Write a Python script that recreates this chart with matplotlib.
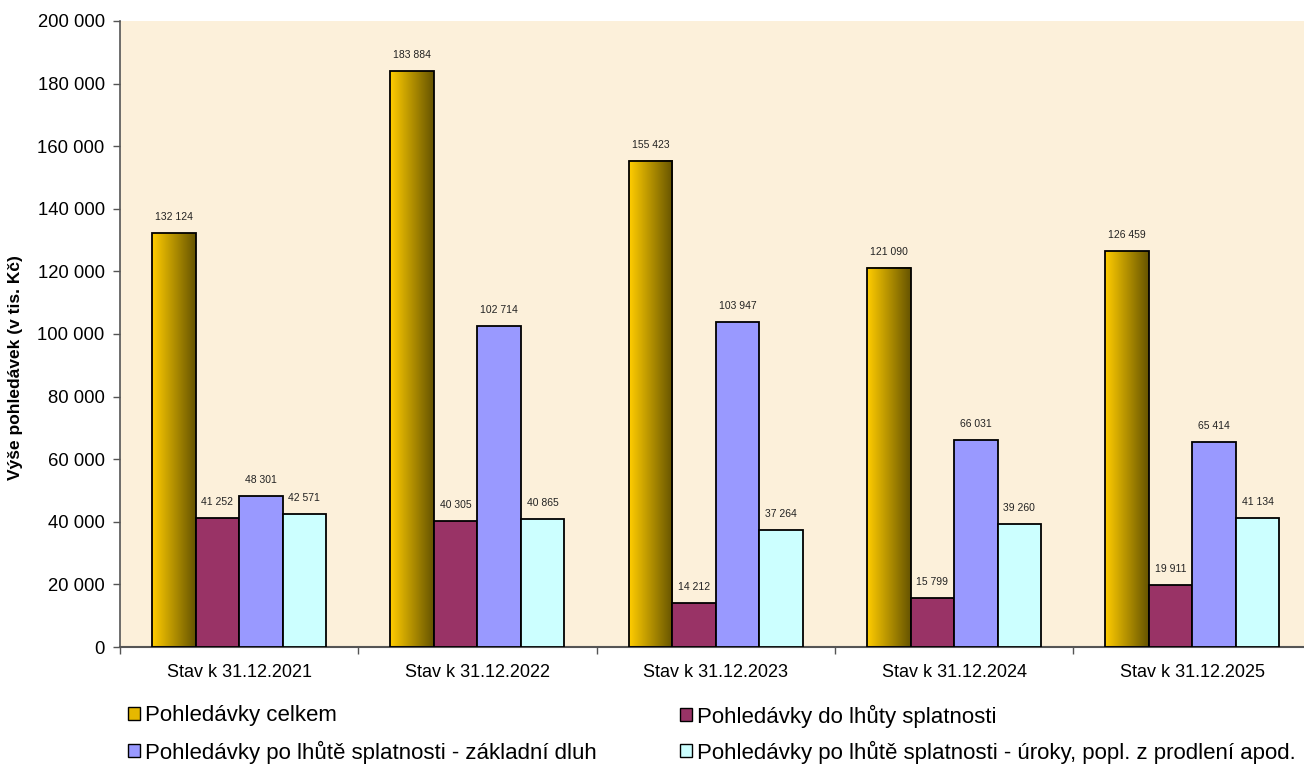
import matplotlib
matplotlib.use("Agg")
import matplotlib.pyplot as plt
import numpy as np
from matplotlib.patches import Patch
from matplotlib.ticker import FuncFormatter, MultipleLocator

categories = ["Stav k 31.12.2021", "Stav k 31.12.2022", "Stav k 31.12.2023",
              "Stav k 31.12.2024", "Stav k 31.12.2025"]
celkem = [132124, 183884, 155423, 121090, 126459]
do_lhuty = [41252, 40305, 14212, 15799, 19911]
zakladni = [48301, 102714, 103947, 66031, 65414]
uroky = [42571, 40865, 37264, 39260, 41134]
series_names = ["Pohledávky celkem", "Pohledávky do lhůty splatnosti",
                "Pohledávky po lhůtě splatnosti - základní dluh",
                "Pohledávky po lhůtě splatnosti - úroky, popl. z prodlení apod."]

plt.rcParams['font.family'] = ['Liberation Sans', 'DejaVu Sans']

fig = plt.figure(figsize=(13.04, 7.65), dpi=100)
W, H = 1304, 765
ax = fig.add_axes([120 / W, (H - 647) / H, 1191.5 / W, 626 / H])
ax.set_facecolor('#FCF0DA')

n = len(categories)
x = np.arange(n)
bw = 0.1825
colors = [None, '#993366', '#9999FF', '#CCFFFF']
data = [celkem, do_lhuty, zakladni, uroky]

grad = np.linspace(0, 1, 64)
c0 = np.array([1.0, 0.80, 0.0])
c1 = np.array([0.40, 0.33, 0.0])
img = (c0[None, :] * (1 - grad[:, None]) + c1[None, :] * grad[:, None])[None, :, :]

for si, vals in enumerate(data):
    offs = (si - 1.5) * bw
    for i, v in enumerate(vals):
        xc = x[i] + offs
        if si == 0:
            ax.imshow(img, extent=(xc - bw / 2, xc + bw / 2, 0, v), aspect='auto',
                      zorder=2, interpolation='bilinear')
            ax.bar(xc, v, width=bw, facecolor='none', edgecolor='black',
                   linewidth=1.3, zorder=3)
        else:
            ax.bar(xc, v, width=bw, facecolor=colors[si], edgecolor='black',
                   linewidth=1.3, zorder=3)
        ax.text(xc, v + 3500, f"{v:,}".replace(",", " "), ha='center', va='bottom',
                fontsize=7.5, color='#222222', zorder=4)

ax.set_xlim(-0.5, n - 0.5)
ax.set_ylim(0, 200000)
ax.yaxis.set_major_locator(MultipleLocator(20000))
ax.yaxis.set_major_formatter(FuncFormatter(lambda v, p: f"{int(v):,}".replace(",", " ")))
ax.set_xticks(x)
ax.set_xticklabels(categories, fontsize=13)
ax.set_xticks(np.arange(n + 1) - 0.5, minor=True)
ax.tick_params(axis='x', which='major', length=0, pad=12)
ax.tick_params(axis='x', which='minor', length=5, color='#555555', width=1)
ax.tick_params(axis='y', length=5, color='#555555', width=1, labelsize=13.3, pad=6)
for s in ['top', 'right']:
    ax.spines[s].set_visible(False)
ax.spines['left'].set_color('#555555')
ax.spines['bottom'].set_color('#555555')
ax.spines['left'].set_linewidth(1.2)
ax.spines['bottom'].set_linewidth(1.5)
ax.set_ylabel("Výše pohledávek (v tis. Kč)", fontsize=12.5, fontweight='bold')
ax.yaxis.set_label_coords(-97 / 1191.5, (647 - 368) / 626)

leg_colors = ['#E6B800', '#993366', '#9999FF', '#CCFFFF']
handles = [Patch(facecolor=leg_colors[i], edgecolor='black', linewidth=1) for i in range(4)]

def add_leg(h, label, xpx, ypx):
    lg = fig.legend([h], [label], loc='center left', bbox_to_anchor=(xpx / W, 1 - ypx / H),
                    frameon=False, fontsize=16, handlelength=0.55, handleheight=0.55,
                    handletextpad=0.2, borderpad=0, borderaxespad=0)
    return lg

add_leg(handles[0], series_names[0], 128, 716)
add_leg(handles[1], series_names[1], 680, 716)
add_leg(handles[2], series_names[2], 128, 752)
add_leg(handles[3], series_names[3], 680, 752)

fig.savefig("out.png", dpi=100)
